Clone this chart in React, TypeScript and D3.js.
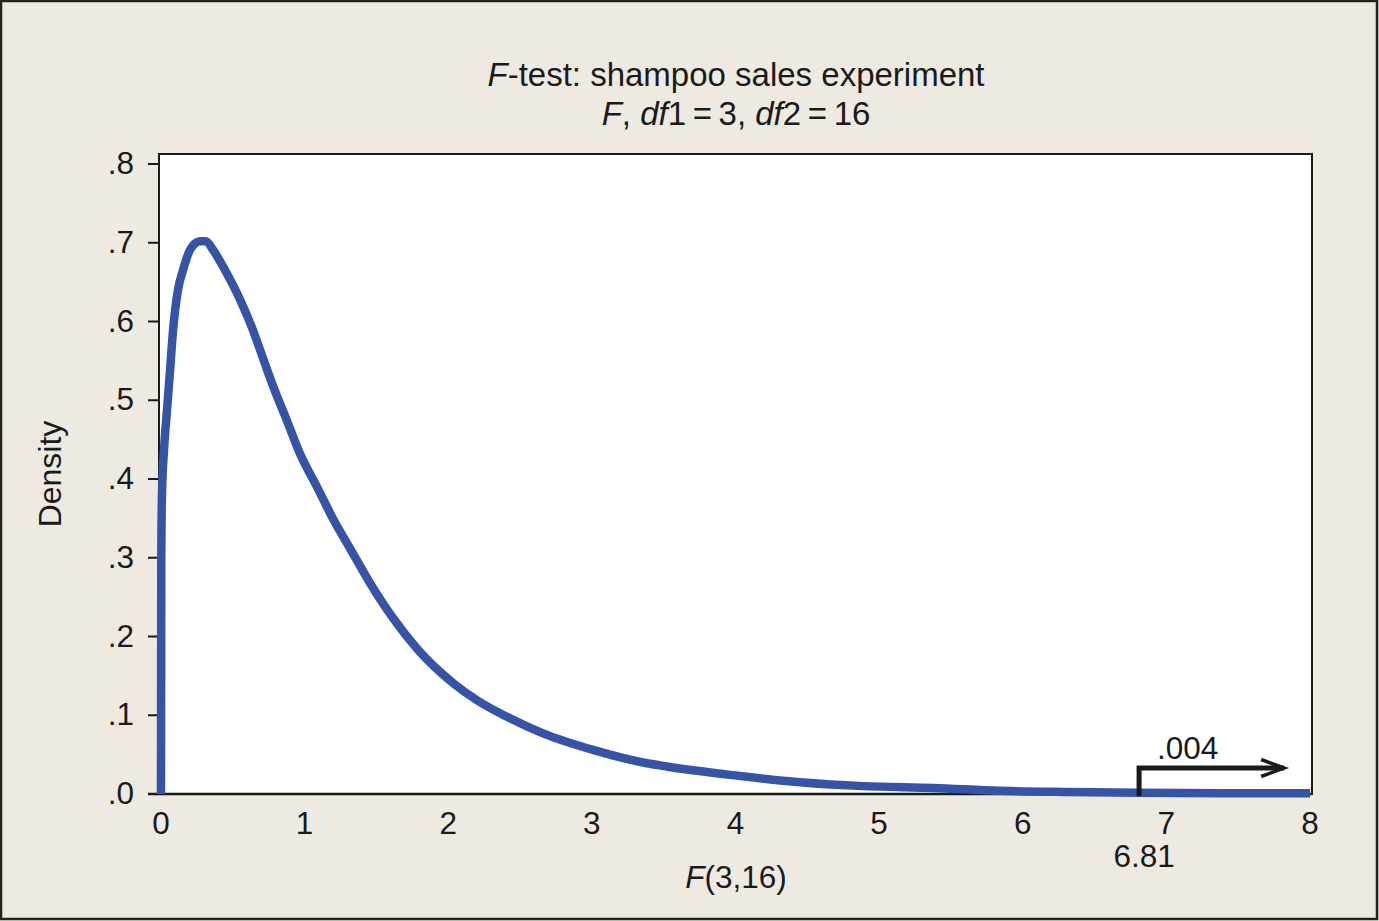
import React from "react";
import * as d3 from "d3";

// F(3,16) density curve
const fValues = [0, 0.002, 0.007, 0.021, 0.042, 0.063, 0.084, 0.118, 0.153, 0.202, 0.272, 0.313, 0.362, 0.446, 0.55, 0.634, 0.703, 0.78, 0.877, 0.968, 1.086, 1.205, 1.316, 1.455, 1.609, 1.79, 2.033, 2.2, 2.409, 2.66, 3.008, 3.384, 3.52, 3.98, 4.45, 4.89, 5.38, 5.84, 6.3, 6.81, 7.4, 8.0];
const densities = [0, 0.3, 0.382, 0.437, 0.488, 0.538, 0.589, 0.64, 0.665, 0.691, 0.702, 0.702, 0.691, 0.665, 0.628, 0.592, 0.557, 0.518, 0.474, 0.432, 0.39, 0.347, 0.312, 0.268, 0.225, 0.183, 0.141, 0.119, 0.098, 0.077, 0.056, 0.039, 0.035, 0.024, 0.015, 0.01, 0.0076, 0.004, 0.0025, 0.0015, 0.001, 0.001];

const xTicks = [0, 1, 2, 3, 4, 5, 6, 7, 8];
const xTickLabels = ["0", "1", "2", "3", "4", "5", "6", "7", "8"];
const yTicks = [0, 0.1, 0.2, 0.3, 0.4, 0.5, 0.6, 0.7, 0.8];
const yTickLabels = [".0", ".1", ".2", ".3", ".4", ".5", ".6", ".7", ".8"];

const criticalValue = 6.81;
const criticalLabel = "6.81";
const arrowEnd = 7.82;
const arrowLevel = 0.033;
const pValueLabel = ".004";

const W = 1379;
const H = 921;
const frame = { left: 159, right: 1312, top: 154, bottom: 794 };
const FONT = "'Liberation Sans', Arial, Helvetica, sans-serif";
const BG = "#eeeae2";
const BLUE = "#3653a6";
const INK = "#1a1a1a";
const LABEL = 31.5;

export default function App() {
  const x = d3.scaleLinear().domain([0, 8]).range([161, 1310]);
  const y = d3.scaleLinear().domain([0, 0.8]).range([794, 164]);

  const pts: [number, number][] = fValues.map((f, i) => [f, densities[i]]);
  const line = d3
    .line<[number, number]>()
    .x((d) => x(d[0]))
    .y((d) => y(d[1]))
    .curve(d3.curveMonotoneX);

  const ax = x(criticalValue);
  const ay = y(arrowLevel);
  const tip = x(arrowEnd);

  return (
    <svg
      width={W}
      height={H}
      viewBox={`0 0 ${W} ${H}`}
      style={{ position: "absolute", left: 0, top: 0, display: "block" }}
      fontFamily={FONT}
    >
      <rect x={0} y={0} width={W} height={H} fill={BG} />
      <rect x={1} y={1} width={W - 3} height={H - 3} fill="none" stroke="#222" strokeWidth={2.5} />

      {/* title */}
      <text x={736} y={86} textAnchor="middle" fontSize={33} fill={INK}>
        <tspan fontStyle="italic">F</tspan>-test: shampoo sales experiment
      </text>
      <text x={736} y={125} textAnchor="middle" fontSize={33} fill={INK}>
        <tspan fontStyle="italic">F</tspan>, <tspan fontStyle="italic">df</tspan>1{"\u2009=\u2009"}3, <tspan fontStyle="italic">df</tspan>2{"\u2009=\u2009"}16
      </text>

      {/* plot area */}
      <rect
        x={frame.left}
        y={frame.top}
        width={frame.right - frame.left}
        height={frame.bottom - frame.top}
        fill="#ffffff"
        stroke={INK}
        strokeWidth={2}
      />
      <line x1={148} x2={frame.right} y1={frame.bottom} y2={frame.bottom} stroke={INK} strokeWidth={2.5} />

      {/* y axis */}
      {yTicks.map((t, i) => (
        <g key={"y" + i}>
          <line x1={148} x2={frame.left} y1={y(t)} y2={y(t)} stroke={INK} strokeWidth={2} />
          <text x={134} y={y(t) + 10} textAnchor="end" fontSize={LABEL} fill={INK}>
            {yTickLabels[i]}
          </text>
        </g>
      ))}
      <text
        transform={`translate(61,474) rotate(-90)`}
        textAnchor="middle"
        fontSize={32}
        fill={INK}
      >
        Density
      </text>

      {/* x axis */}
      {xTicks.map((t, i) => (
        <text key={"x" + i} x={x(t)} y={834} textAnchor="middle" fontSize={LABEL} fill={INK}>
          {xTickLabels[i]}
        </text>
      ))}
      <text x={736} y={888} textAnchor="middle" fontSize={LABEL} fill={INK}>
        <tspan fontStyle="italic">F</tspan>(3,16)
      </text>
      <text x={ax + 5} y={867} textAnchor="middle" fontSize={LABEL} fill={INK}>
        {criticalLabel}
      </text>

      {/* density curve */}
      <path d={line(pts) || ""} fill="none" stroke={BLUE} strokeWidth={8.5} strokeLinejoin="round" />

      {/* p-value annotation */}
      <path
        d={`M${ax},${y(0) + 2} L${ax},${ay} L${tip},${ay}`}
        fill="none"
        stroke={INK}
        strokeWidth={5}
        strokeLinejoin="miter"
      />
      <path
        d={`M${tip - 23},${ay - 8.5} L${tip},${ay} L${tip - 23},${ay + 8.5}`}
        fill="none"
        stroke={INK}
        strokeWidth={3.5}
      />
      <text x={ax + 18} y={759} textAnchor="start" fontSize={LABEL} fill={INK}>
        {pValueLabel}
      </text>
    </svg>
  );
}
